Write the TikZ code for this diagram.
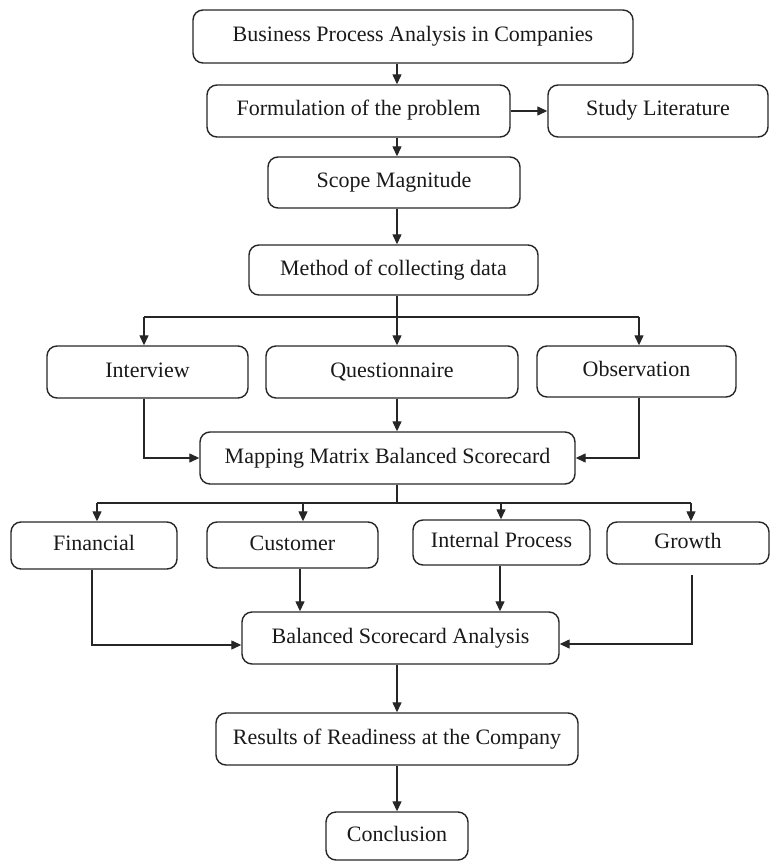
\documentclass[tikz,border=0pt]{standalone}
\usepackage{fontspec}
\setmainfont{Liberation Serif}
\usetikzlibrary{arrows.meta,calc}
\begin{document}
\begin{tikzpicture}[x=1pt,y=-1pt,
  box/.style={draw=black!85, line width=1.4pt, rounded corners=10pt, inner sep=0pt,
    text height=15pt, text depth=5pt,
    font=\fontsize{22}{26}\selectfont, text=black!90},
  link/.style={draw=black!85, line width=1.3pt, -{Triangle[length=10pt,width=9pt]}},
  plain/.style={draw=black!85, line width=1.3pt}]
\useasboundingbox (0,0) rectangle (772,861);

% boxes
\node[box, minimum width=440, minimum height=53] (bpa)     at (413,36.5)  {Business Process Analysis in Companies};
\node[box, minimum width=303, minimum height=52] (form)    at (358.5,111) {Formulation of the problem};
\node[box, minimum width=220, minimum height=52] (study)   at (658,111)   {Study Literature};
\node[box, minimum width=252, minimum height=51] (scope)   at (394,182.5) {Scope Magnitude};
\node[box, minimum width=289, minimum height=50] (method)  at (393.5,270) {Method of collecting data};
\node[box, minimum width=201, minimum height=52] (inter)   at (147.5,372) {Interview};
\node[box, minimum width=252, minimum height=52] (quest)   at (392,372)   {Questionnaire};
\node[box, minimum width=199, minimum height=51] (obs)     at (636.5,371.5) {Observation};
\node[box, minimum width=375, minimum height=52] (mapping) at (387.5,458) {Mapping Matrix Balanced Scorecard};
\node[box, minimum width=166, minimum height=47] (fin)     at (94,545.5)  {Financial};
\node[box, minimum width=171, minimum height=46] (cust)    at (292.5,545) {Customer};
\node[box, minimum width=177, minimum height=45] (intp)    at (501.5,542.5) {Internal Process};
\node[box, minimum width=162, minimum height=42] (growth)  at (688,543)   {Growth};
\node[box, minimum width=317, minimum height=52] (bsa)     at (400.5,638) {Balanced Scorecard Analysis};
\node[box, minimum width=362, minimum height=52] (results) at (397,739)   {Results of Readiness at the Company};
\node[box, minimum width=142, minimum height=48] (concl)   at (397,836)   {Conclusion};

% guide columns and junctions
\coordinate (spine) at (397,0);
\coordinate (j1)  at (397,317);
\coordinate (j1l) at (144,317);
\coordinate (j1r) at (639,317);
\coordinate (j2)  at (397,503);
\coordinate (j2f) at (97,503);
\coordinate (j2c) at (303,503);
\coordinate (j2i) at (501,503);
\coordinate (j2g) at (691,503);
\coordinate (fl)  at (92,645);
\coordinate (gtop) at (692,575);
\coordinate (gl)  at (692,644);
\coordinate (cx)  at (300,0);
\coordinate (ix)  at (500,0);

% top chain
\draw[link] (bpa.south -| spine) -- (form.north -| spine);
\draw[link] (form.east) -- (study.west);
\draw[link] (form.south -| spine) -- (scope.north -| spine);
\draw[link] (scope.south -| spine) -- (method.north -| spine);

% data collection branches
\draw[plain] (method.south -| j1) -- (j1);
\draw[plain] (j1l) -- (j1r);
\draw[link] (j1l) -- (inter.north -| j1l);
\draw[link] (j1) -- (quest.north -| j1);
\draw[link] (j1r) -- (obs.north -| j1r);

% into the mapping matrix
\draw[link] (inter.south -| j1l) |- (mapping.west);
\draw[link] (quest.south -| j1) -- (mapping.north -| j1);
\draw[link] (obs.south -| j1r) |- (mapping.east);

% perspective branches
\draw[plain] (mapping.south -| j2) -- (j2);
\draw[plain] (j2f) -- (j2g);
\draw[link] (j2f) -- (fin.north -| j2f);
\draw[link] (j2c) -- (cust.north -| j2c);
\draw[link] (j2i) -- (intp.north -| j2i);
\draw[link] (j2g) -- (growth.north -| j2g);

% into the scorecard analysis
\draw[link] (fin.south -| fl) -- (fl) -- (bsa.west |- fl);
\draw[link] (cust.south -| cx) -- (bsa.north -| cx);
\draw[link] (intp.south -| ix) -- (bsa.north -| ix);
\draw[link] (gtop) -- (gl) -- (bsa.east |- gl);

% final chain
\draw[link] (bsa.south -| spine) -- (results.north -| spine);
\draw[link] (results.south -| spine) -- (concl.north -| spine);
\end{tikzpicture}
\end{document}
